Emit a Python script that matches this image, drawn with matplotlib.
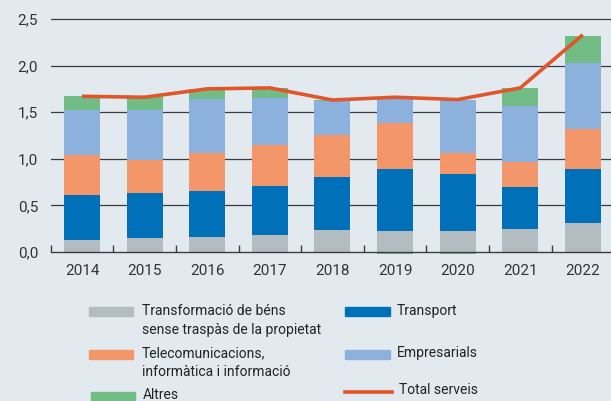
import matplotlib
matplotlib.use("Agg")
import matplotlib.pyplot as plt
from matplotlib.patches import Rectangle
from matplotlib.lines import Line2D
import numpy as np

plt.rcParams['font.family'] = ['Roboto', 'DejaVu Sans']

years = ['2014', '2015', '2016', '2017', '2018', '2019', '2020', '2021', '2022']
transformacio = [0.13, 0.15, 0.16, 0.18, 0.24, 0.22, 0.22, 0.25, 0.31]
transport = [0.48, 0.48, 0.49, 0.53, 0.56, 0.67, 0.62, 0.45, 0.58]
telecom = [0.43, 0.36, 0.41, 0.435, 0.455, 0.49, 0.22, 0.27, 0.43]
empresarials = [0.48, 0.53, 0.585, 0.51, 0.365, 0.265, 0.57, 0.60, 0.71]
altres = [0.15, 0.15, 0.10, 0.10, 0.01, -0.025, -0.025, 0.185, 0.29]
total = [1.67, 1.66, 1.75, 1.76, 1.63, 1.66, 1.635, 1.76, 2.33]

bg = '#e2eaf0'
c_gray = '#b3bcc1'
c_transport = '#0071b9'
c_tele = '#f3976b'
c_emp = '#8db1dd'
c_altres = '#72bd85'
c_total = '#e0562a'

fig = plt.figure(figsize=(6.11, 4.01), dpi=100, facecolor=bg)
ax = fig.add_axes([0.083, 0.3601, 0.917, 0.5973])
ax.set_facecolor(bg)

x = np.arange(len(years))
w = 0.575
bottom = np.zeros(len(years))
for vals, col in [(transformacio, c_gray), (transport, c_transport), (telecom, c_tele), (empresarials, c_emp)]:
    ax.bar(x, vals, w, bottom=bottom, color=col, zorder=2)
    bottom += np.array(vals)
alt = np.array(altres)
ax.bar(x, alt, w, bottom=np.where(alt >= 0, bottom, 0), color=c_altres, zorder=2)
ax.plot(x, total, color=c_total, lw=2.6, zorder=3, solid_capstyle='butt')

ax.set_xlim(-0.5, 8.45)
ax.set_ylim(-0.05, 2.52)
ax.set_yticks([0, 0.5, 1.0, 1.5, 2.0, 2.5])
ax.set_yticklabels(['0,0', '0,5', '1,0', '1,5', '2,0', '2,5'])
for v in [0.5, 1.0, 1.5, 2.0, 2.5]:
    ax.axhline(v, color='#3c3c3c', lw=0.9, zorder=1)
for s in ['top', 'right', 'left']:
    ax.spines[s].set_visible(False)
ax.spines['bottom'].set_position(('data', 0))
ax.spines['bottom'].set_color('#3c3c3c')
ax.spines['bottom'].set_linewidth(1.0)
ax.set_xticks(x)
ax.set_xticklabels(years)
ax.set_xticks(np.arange(-0.5, 8.0, 1.0), minor=True)
ax.tick_params(axis='x', which='major', length=0, pad=9, labelsize=11, labelcolor='#333333')
ax.tick_params(axis='x', which='minor', length=5, direction='in', color='#3c3c3c', width=1)
ax.tick_params(axis='y', length=0, pad=9, labelsize=11, labelcolor='#333333')

# legend
W, H = 611.0, 401.0
def patch(x0, y0, col):
    fig.add_artist(Rectangle((x0 / W, 1 - (y0 + 9) / H), 44 / W, 9 / H, color=col, transform=fig.transFigure))
def label(x0, y0, s):
    fig.text(x0 / W, 1 - y0 / H, s, fontsize=10, color='#222222', va='center', ha='left')

patch(89, 307, c_gray)
label(141.5, 311, 'Transformació de béns')
label(141.5, 330, 'sense traspàs de la propietat')
patch(89, 350, c_tele)
label(141.5, 353, 'Telecomunicacions,')
label(141.5, 372, 'informàtica i informació')
patch(90.5, 392, c_altres)
label(143, 395, 'Altres')
patch(345.5, 307, c_transport)
label(397, 311, 'Transport')
patch(345.5, 350, c_emp)
label(397, 353, 'Empresarials')
fig.add_artist(Line2D([345 / W, 391.5 / W], [1 - 392 / H, 1 - 392 / H], color=c_total, lw=2.6, transform=fig.transFigure))
label(399, 390, 'Total serveis')

fig.savefig('out.png', dpi=100, facecolor=bg)
